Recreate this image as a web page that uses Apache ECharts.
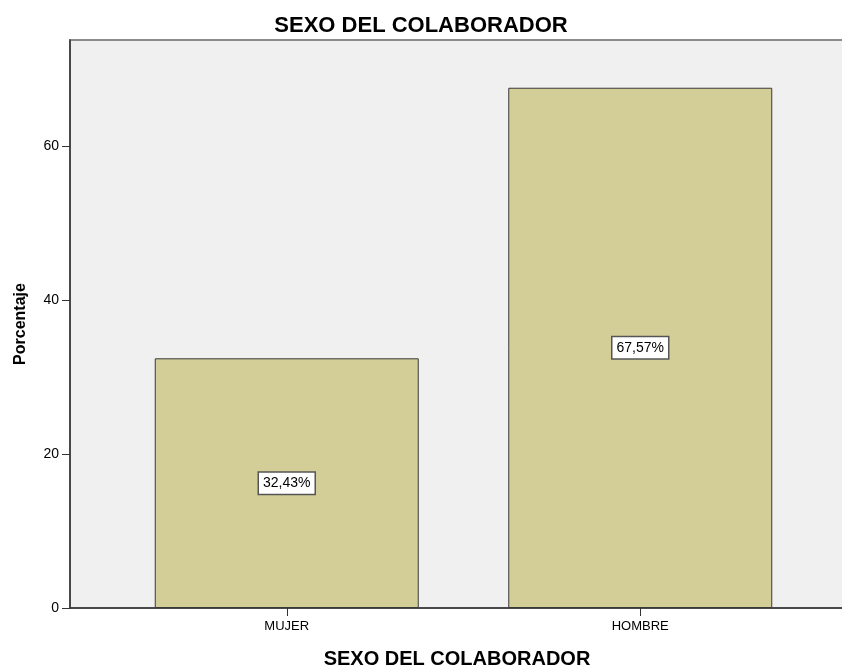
<!DOCTYPE html>
<html><head><meta charset="utf-8">
<script src="https://cdn.jsdelivr.net/npm/echarts@6/dist/echarts.min.js"></script>
<style>html,body{margin:0;padding:0;background:#fff}#c{width:842px;height:668px}</style>
</head><body><div id="c"></div>
<script>
const categories = ['MUJER', 'HOMBRE'];
const percentValues = [32.43, 67.57];
const yTicks = [0, 20, 40, 60];
const titleText = 'SEXO DEL COLABORADOR';
const xTitle = 'SEXO DEL COLABORADOR';
const yTitle = 'Porcentaje';

const FONT = '"Liberation Sans", Arial, sans-serif';
const YMAX = 73.77;
const chart = echarts.init(document.getElementById('c'), null, {renderer: 'canvas'});
chart.setOption({
  animation: false,
  title: [
    {text: titleText, left: 'center', top: 10, textStyle: {fontFamily: FONT, fontWeight: 'bold', fontSize: 22, color: '#000'}}
  ],
  grid: [
    {left: 70, right: -2, top: 40, bottom: 60, outerBoundsMode: 'none', containLabel: false, show: true, backgroundColor: '#f0f0f0', borderColor: '#8c8c8c', borderWidth: 2},
    {left: 110, right: 25, top: 40, bottom: 60, outerBoundsMode: 'none', containLabel: false}
  ],
  xAxis: [
    {gridIndex: 0, type: 'value', min: 0, max: 1, name: xTitle, nameLocation: 'middle', nameGap: 41,
     nameTextStyle: {fontFamily: FONT, fontWeight: 'bold', fontSize: 20, color: '#000'},
     axisLine: {show: true, onZero: false, lineStyle: {color: '#333', width: 1.5}}, axisTick: {show: false}, axisLabel: {show: false}, splitLine: {show: false}},
    {gridIndex: 1, type: 'category', data: categories, axisLine: {show: false}, axisTick: {show: true, alignWithLabel: true, length: 8, lineStyle: {color: '#333'}},
     axisLabel: {fontFamily: FONT, fontSize: 13, color: '#000', margin: 12}}
  ],
  yAxis: [
    {gridIndex: 0, type: 'value', min: 0, max: YMAX, interval: 20,
     name: yTitle, nameLocation: 'middle', nameGap: 41, nameTextStyle: {fontFamily: FONT, fontWeight: 'bold', fontSize: 16, color: '#000'},
     axisLine: {show: true, lineStyle: {color: '#333', width: 1.5}}, axisTick: {show: true, length: 8, lineStyle: {color: '#333'}},
     axisLabel: {fontFamily: FONT, fontSize: 14, color: '#000', margin: 11, showMaxLabel: false,
       formatter: v => yTicks.includes(v) ? String(v) : ''},
     splitLine: {show: false}},
    {gridIndex: 1, type: 'value', min: 0, max: YMAX, show: false}
  ],
  series: [{
    type: 'bar', xAxisIndex: 1, yAxisIndex: 1, data: percentValues, barWidth: 264,
    itemStyle: {color: '#d3cd97', borderColor: '#3a3a3a', borderWidth: 1},
    label: {show: true, position: 'inside', formatter: p => p.value.toFixed(2).replace('.', ',') + '%',
      fontFamily: FONT, fontSize: 14, color: '#000', backgroundColor: '#fff', borderColor: '#555', borderWidth: 1.5, padding: [4, 4, 3, 4]}
  }]
});
</script></body></html>
